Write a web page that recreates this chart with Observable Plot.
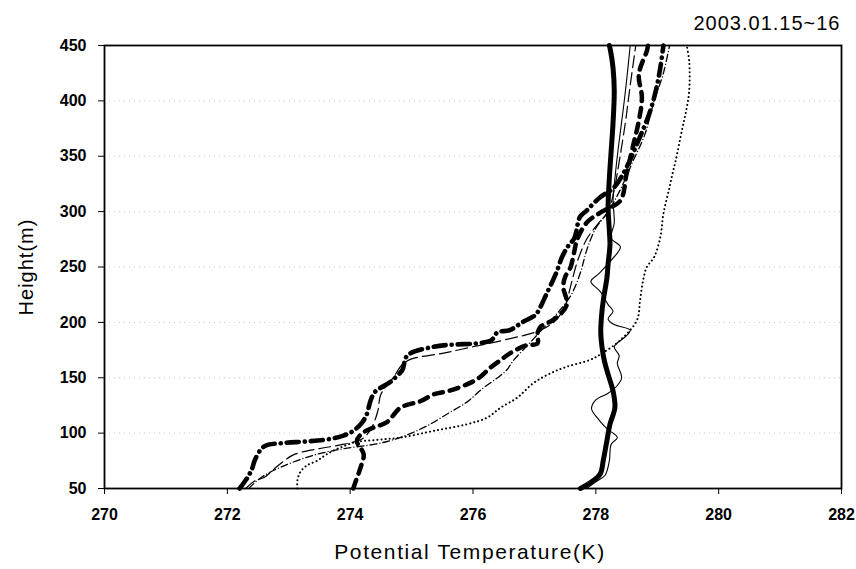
<!DOCTYPE html>
<html>
<head>
<meta charset="utf-8">
<script src="https://cdn.jsdelivr.net/npm/d3@7"></script>
<script src="https://cdn.jsdelivr.net/npm/@observablehq/plot@0.6"></script>
<style>
  html, body { margin: 0; padding: 0; background: #fff; }
  #chart { width: 856px; height: 569px; }
  svg { font-family: "Liberation Sans", Arial, sans-serif; }
</style>
</head>
<body>
<div id="chart"></div>
<script>
// ---- data: [potential temperature (K), height (m)] ----
const title = "2003.01.15~16";
const xLabel = "Potential Temperature(K)";
const yLabel = "Height(m)";
const xTicks = [270, 272, 274, 276, 278, 280, 282];
const yTicks = [50, 100, 150, 200, 250, 300, 350, 400, 450];
const gridHeights = [100, 150, 200, 250, 300, 350, 400];

const thickSolid = [[277.75,50],[277.9,55],[278.07,63],[278.12,75],[278.18,93],[278.23,108],[278.31,123],[278.28,138],[278.2,153],[278.14,165],[278.1,178],[278.08,192],[278.1,210],[278.13,223],[278.18,240],[278.2,253],[278.23,270],[278.22,283],[278.2,304],[278.22,330],[278.25,355],[278.28,380],[278.3,409],[278.28,430],[278.24,445],[278.22,450]];

const thinSolid = [[277.85,50],[278.0,56],[278.15,62],[278.22,75],[278.25,90],[278.35,96],[278.18,104],[278.05,112],[277.93,122],[278.0,130],[278.2,136],[278.35,143],[278.42,150],[278.35,163],[278.38,170],[278.3,178],[278.5,188],[278.56,193],[278.3,198],[278.2,203],[278.28,210],[278.2,216],[278.07,228],[277.92,237],[278.05,244],[278.28,258],[278.4,268],[278.25,276],[278.3,290],[278.28,310],[278.32,335],[278.36,355],[278.45,394],[278.5,418],[278.56,450]];

const dotted = [[273.14,50],[273.14,57],[273.19,65],[273.3,71],[273.46,75],[273.62,81],[273.84,87],[274.1,92],[274.45,94],[274.82,96],[275.36,102],[275.9,108],[276.23,114],[276.45,123],[276.72,132],[276.98,145],[277.26,154],[277.53,160],[277.9,166],[278.1,172],[278.4,184],[278.67,202],[278.72,220],[278.77,238],[278.83,250],[278.95,259],[279.05,277],[279.1,298],[279.2,322],[279.26,337],[279.3,346],[279.4,373],[279.47,391],[279.52,409],[279.52,436],[279.48,450]];

const heavyDashDot = [[272.2,50],[272.33,60],[272.41,69],[272.45,76],[272.6,88],[272.9,91],[273.3,92.5],[273.7,95],[273.9,98],[274.05,102],[274.2,110],[274.27,117],[274.33,129],[274.4,137],[274.65,146],[274.75,151],[274.85,157],[274.93,170],[275.36,178],[275.7,180],[276.05,181],[276.3,184],[276.4,191],[276.6,193],[276.8,200],[277.0,206],[277.05,209],[277.2,226],[277.35,244],[277.45,259],[277.55,269],[277.65,276],[277.74,295],[277.85,301],[278.07,313],[278.3,322],[278.5,340],[278.7,365],[278.88,390],[278.98,410],[279.05,430],[279.1,450]];

const heavyDashed = [[274.05,50],[274.1,58],[274.17,69],[274.22,81],[274.11,93],[274.2,100],[274.38,105],[274.6,110],[274.82,123],[275.15,129],[275.36,135],[275.6,138],[275.9,144],[276.1,150],[276.28,159],[276.45,166],[276.6,172],[276.85,179],[277.05,181],[277.05,190],[277.1,196],[277.3,202],[277.45,209],[277.53,217],[277.47,232],[277.5,241],[277.59,250],[277.63,259],[277.66,267],[277.69,274],[277.85,290],[278.1,300],[278.4,310],[278.5,334],[278.6,358],[278.7,382],[278.75,403],[278.7,424],[278.83,445],[278.85,450]];

const thinLongDash = [[272.3,50],[272.45,57],[272.6,60],[272.75,67],[272.9,74],[273.1,81],[273.5,86],[273.9,90],[274.2,95],[274.35,105],[274.45,120],[274.5,135],[274.7,150],[274.85,162],[275.0,167],[275.5,172],[276.0,178],[276.5,184],[277.1,193],[277.35,202],[277.5,215],[277.6,235],[277.7,255],[277.85,275],[278.05,290],[278.2,300],[278.3,320],[278.38,345],[278.48,380],[278.55,410],[278.65,450]];

const thinDashDot = [[272.35,50],[272.55,60],[272.9,70],[273.4,80],[273.9,86],[274.4,90],[274.7,94],[275.0,100],[275.3,108],[275.6,118],[275.9,128],[276.15,140],[276.4,150],[276.55,157],[276.65,165],[276.9,180],[277.15,195],[277.4,210],[277.6,225],[277.75,245],[277.85,265],[278.0,285],[278.2,300],[278.4,320],[278.6,345],[278.8,370],[278.95,400],[279.1,425],[279.2,450]];

const toObj = a => a.map(([t, h]) => ({t, h}));

const lineStyles = [
  {data: dotted, strokeWidth: 2, dash: "0.1,4"},
  {data: thinDashDot, strokeWidth: 1.3, dash: "7,3,0.1,3"},
  {data: thinLongDash, strokeWidth: 1.2, dash: "12,5"},
  {data: heavyDashed, strokeWidth: 4.5, dash: "9,7"},
  {data: heavyDashDot, strokeWidth: 4.6, dash: "12,6,0.1,6"},
  {data: thinSolid, strokeWidth: 1.1, dash: null},
  {data: thickSolid, strokeWidth: 5, dash: null}
];

const marks = [
  Plot.ruleY(gridHeights, {stroke: "#c8c8c8", strokeWidth: 1, strokeDasharray: "1,4"}),
  ...lineStyles.map(s => Plot.line(toObj(s.data), {
    x: "t", y: "h", stroke: "black", strokeWidth: s.strokeWidth,
    strokeDasharray: s.dash, strokeLinecap: "round", strokeLinejoin: "round", curve: "catmull-rom"
  })),
  Plot.frame({stroke: "black", strokeWidth: 1.8}),
  Plot.axisX(xTicks, {tickSize: 6, tickPadding: 14, fontSize: 16, fontWeight: "bold", label: null, tickFormat: d => String(d)}),
  Plot.axisY(yTicks, {tickSize: 6, tickPadding: 12, fontSize: 16, fontWeight: "bold", label: null}),
  Plot.text([yLabel], {frameAnchor: "left", dx: -78, rotate: -90, fontSize: 20, textAnchor: "middle"}),
  Plot.text([xLabel], {frameAnchor: "bottom", dy: 70, fontSize: 21, textAnchor: "middle", dx: -3}),
  Plot.text([title], {frameAnchor: "top-right", dy: -30, dx: -1, fontSize: 20, textAnchor: "end"})
];

const chart = Plot.plot({
  width: 856,
  height: 569,
  marginLeft: 104,
  marginRight: 15,
  marginTop: 45,
  marginBottom: 81,
  x: {domain: [270, 282]},
  y: {domain: [50, 450]},
  style: {fontFamily: "'Liberation Sans', Arial, sans-serif", color: "black", background: "white", overflow: "visible"},
  marks
});
document.getElementById("chart").appendChild(chart);
// letter spacing of the labels as in the reference
d3.select(chart).selectAll("text").each(function() {
  const t = this.textContent;
  if (t === xLabel) d3.select(this).attr("letter-spacing", "1.6px");
  if (t === yLabel) d3.select(this).attr("letter-spacing", "1px");
  if (t === title) d3.select(this).attr("letter-spacing", "1px");
});
</script>
</body>
</html>
